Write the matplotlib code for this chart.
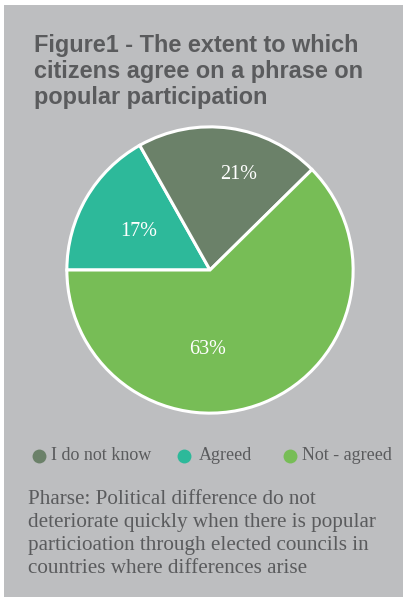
import matplotlib.pyplot as plt
from matplotlib.patches import Rectangle

# data
labels = ['I do not know', 'Agreed', 'Not - agreed']
values = [21, 17, 63]
colors = ['#6b8169', '#2db99a', '#77bd56']
title = 'Figure1 - The extent to which\ncitizens agree on a phrase on\npopular participation'
note = ('Pharse: Political difference do not\n'
        'deteriorate quickly when there is popular\n'
        'particioation through elected councils in\n'
        'countries where differences arise')

W, H = 403, 597
fig = plt.figure(figsize=(W / 100, H / 100), dpi=100)
fig.patch.set_facecolor('white')
fig.patches.append(Rectangle((4 / W, 0), 1, 1 - 5 / H, transform=fig.transFigure,
                             facecolor='#bdbec0', edgecolor='none', zorder=-5))

txtcol = '#5a5b5d'
fig.text(34 / W, 1 - 34 / H, title, ha='left', va='top', fontsize=16.9,
         fontweight='bold', color=txtcol, family='Liberation Sans', linespacing=1.17)

# pie: draw in order Agreed, I do not know, Not - agreed, clockwise from 9 o'clock
order = [1, 0, 2]
cx, cy, r = 210, 270, 146
ax = fig.add_axes([(cx - r) / W, 1 - (cy + r) / H, 2 * r / W, 2 * r / H], zorder=2)
ax.set_facecolor('none')
ax.pie([values[i] for i in order], colors=[colors[i] for i in order],
       startangle=180, counterclock=False,
       wedgeprops=dict(edgecolor='white', linewidth=2.2))
ax.set_aspect('equal')
ax.set_xlim(-1.02, 1.02)
ax.set_ylim(-1.02, 1.02)

# percentage labels (position as fraction of radius)
lab_pos = [(0.20, 0.665), (-0.50, 0.27), (-0.02, -0.555)]
for v, (x, y) in zip(values, lab_pos):
    ax.text(x, y, f'{v}%', ha='center', va='center', color='white',
            fontsize=14.5, family='Liberation Serif')

# legend
leg_x = [39, 184, 290]
leg_tx = [51, 199, 302]
for lab, c, x, tx in zip(labels, colors, leg_x, leg_tx):
    fig.lines.append(plt.Line2D([x / W], [1 - 456 / H], marker='o', markersize=10,
                                markeredgewidth=0, color=c, transform=fig.transFigure))
    fig.text(tx / W, 1 - 456 / H, lab, ha='left', va='center', fontsize=13,
             color=txtcol, family='Liberation Serif')

fig.text(28 / W, 1 - 490 / H, note, ha='left', va='top', fontsize=15.2,
         color=txtcol, family='Liberation Serif', linespacing=1.29)

fig.savefig('out.png', dpi=100, facecolor=fig.get_facecolor())
